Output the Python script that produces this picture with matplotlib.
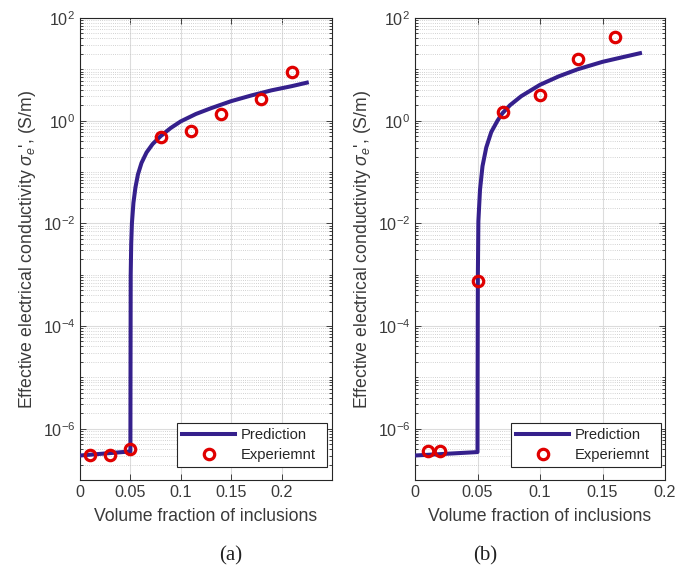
import matplotlib
matplotlib.use("Agg")
import matplotlib.pyplot as plt
import numpy as np
from matplotlib.ticker import FixedLocator, LogLocator, FuncFormatter, NullFormatter

plt.rcParams['font.family'] = ['Liberation Sans', 'DejaVu Sans']
plt.rcParams['mathtext.fontset'] = 'custom'
plt.rcParams['mathtext.rm'] = 'Liberation Sans'
plt.rcParams['mathtext.it'] = 'Liberation Sans:italic'

# ---- panel (a) ----
exp_x_a = [0.01, 0.03, 0.05, 0.08, 0.11, 0.14, 0.18, 0.21]
exp_y_a = [3.1e-7, 3.1e-7, 4.1e-7, 0.47, 0.64, 1.35, 2.6, 8.7]
pred_x_a = [0.0, 0.05, 0.0501, 0.0503, 0.0508, 0.0515, 0.053, 0.055, 0.0575,
            0.061, 0.066, 0.072, 0.08, 0.09, 0.10, 0.115, 0.13, 0.15, 0.17,
            0.19, 0.21, 0.225]
pred_y_a = [3.0e-7, 3.6e-7, 1e-5, 1e-3, 4e-3, 0.01, 0.025, 0.05, 0.09,
            0.15, 0.24, 0.35, 0.5, 0.72, 0.97, 1.35, 1.75, 2.4, 3.1,
            3.9, 4.7, 5.5]

# ---- panel (b) ----
exp_x_b = [0.01, 0.02, 0.05, 0.07, 0.10, 0.13, 0.16]
exp_y_b = [3.6e-7, 3.6e-7, 7.6e-4, 1.45, 3.1, 16.0, 43.0]
pred_x_b = [0.0, 0.05, 0.0501, 0.0503, 0.0507, 0.052, 0.054, 0.057, 0.061,
            0.066, 0.07, 0.076, 0.085, 0.10, 0.115, 0.13, 0.15, 0.165, 0.18]
pred_y_b = [3.0e-7, 3.5e-7, 1e-5, 1e-3, 0.011, 0.045, 0.13, 0.3, 0.6,
            1.0, 1.4, 2.0, 3.0, 5.0, 7.3, 10.0, 14.0, 17.0, 20.6]

xticks_a = [0, 0.05, 0.1, 0.15, 0.2]
xticks_b = [0, 0.05, 0.1, 0.15, 0.2]
yticks = [1e-6, 1e-4, 1e-2, 1e0, 1e2]

line_color = '#35208c'
mark_color = '#e00000'
text_color = '#3a3a3a'

W, H = 690, 573
fig = plt.figure(figsize=(6.9, 5.73), dpi=100)
ax_a = fig.add_axes([80/W, 93/H, 252/W, 462/H])
ax_b = fig.add_axes([415/W, 93/H, 250/W, 462/H])


def style_axes(ax, xmax, xticks):
    ax.set_yscale('log')
    ax.set_xlim(0, xmax)
    ax.set_ylim(1e-7, 1e2)
    ax.xaxis.set_major_locator(FixedLocator(xticks))
    ax.xaxis.set_major_formatter(FuncFormatter(lambda v, p: '%g' % v))
    ax.yaxis.set_major_locator(FixedLocator(yticks))
    ax.yaxis.set_minor_locator(LogLocator(base=10, subs=np.arange(1, 10), numticks=30))
    ax.yaxis.set_minor_formatter(NullFormatter())
    ax.tick_params(which='both', direction='in', top=True, right=True,
                   colors='#262626', labelcolor=text_color, labelsize=11.6, width=0.6)
    ax.tick_params(which='major', length=4.5)
    ax.tick_params(which='minor', length=2.5)
    ax.grid(which='major', color='#dcdcdc', linewidth=0.8, linestyle='-')
    ax.grid(which='minor', axis='y', color='#c4c4c4', linewidth=0.6, linestyle=(0, (1, 1.6)))
    ax.set_axisbelow(True)
    for s in ax.spines.values():
        s.set_color('#262626')
        s.set_linewidth(0.8)
    ax.set_xlabel('Volume fraction of inclusions', fontsize=12.7, color=text_color, labelpad=6)
    ax.set_ylabel(r"Effective electrical conductivity $\sigma_e$', (S/m)",
                  fontsize=12.7, color=text_color, labelpad=3.5)


panels = [
    (ax_a, pred_x_a, pred_y_a, exp_x_a, exp_y_a, 0.25, xticks_a, 177),
    (ax_b, pred_x_b, pred_y_b, exp_x_b, exp_y_b, 0.2, xticks_b, 511),
]
for ax, px, py, ex, ey, xmax, xt, lx in panels:
    style_axes(ax, xmax, xt)
    ax.plot(px, py, color=line_color, linewidth=2.9, label='Prediction', zorder=3)
    ax.plot(ex, ey, linestyle='none', marker='o', markersize=7.5, markerfacecolor='none',
            markeredgecolor=mark_color, markeredgewidth=2.3, label='Experiemnt', zorder=4)
    leg = fig.legend(handles=ax.get_lines(), loc='lower left', mode='expand',
                     bbox_to_anchor=(lx/W, 1 - 467/H, 150/W, 44/H),
                     fontsize=10.6, handlelength=3.6, fancybox=False,
                     framealpha=1, edgecolor='#262626', borderaxespad=0, borderpad=0.35,
                     labelspacing=0.4, handletextpad=0.4)
    leg.get_frame().set_linewidth(0.8)
    for t in leg.get_texts():
        t.set_color('#262626')

fig.text(231/W, 1 - 556/H, '(a)', family='Liberation Serif', fontsize=15,
         ha='center', va='center', color='#222222')
fig.text(485/W, 1 - 556/H, '(b)', family='Liberation Serif', fontsize=15,
         ha='center', va='center', color='#222222')

fig.savefig('out.png', dpi=100)
